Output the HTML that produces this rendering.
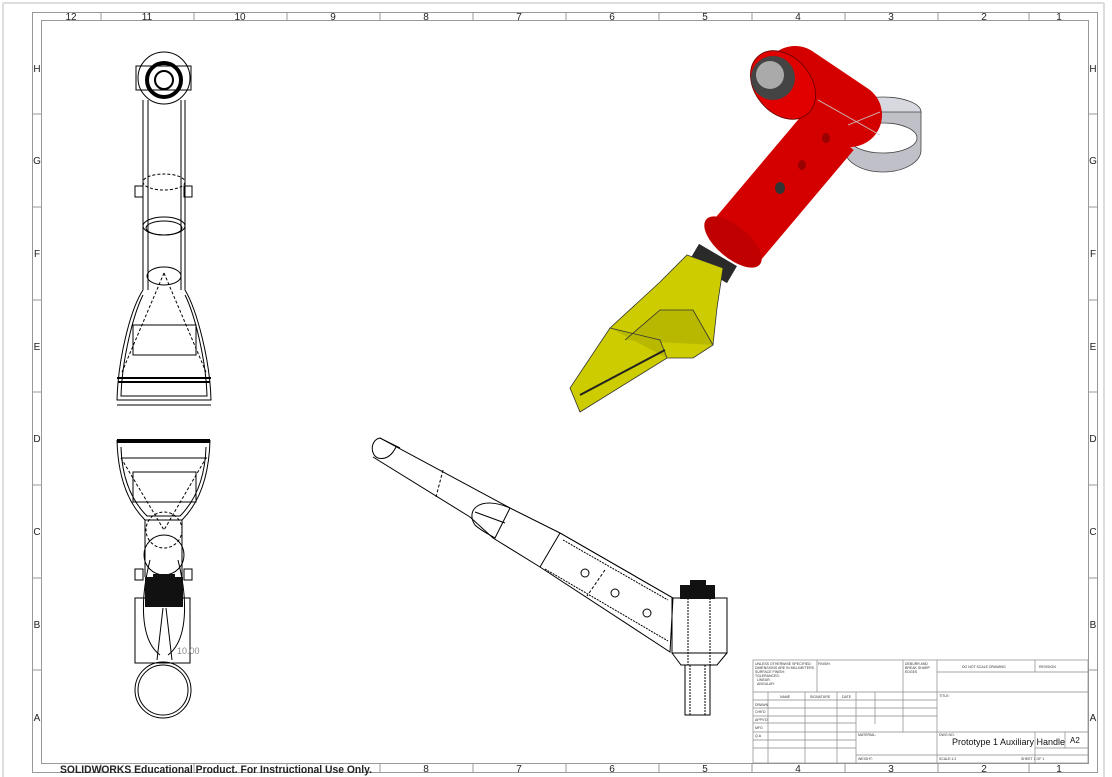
<!DOCTYPE html>
<html><head><meta charset="utf-8"><style>
html,body{margin:0;padding:0;background:#fff}
svg{display:block}
text{font-family:"Liberation Sans",sans-serif}
</style></head><body>
<svg width="1112" height="777" viewBox="0 0 1112 777" xmlns="http://www.w3.org/2000/svg">
<rect x="0" y="0" width="1112" height="777" fill="#fff"/>
<line x1="3" y1="3" x2="1104" y2="3" stroke="#ddd" stroke-width="2"/>
<line x1="3" y1="3" x2="3" y2="777" stroke="#ddd" stroke-width="2"/>
<line x1="1104" y1="3" x2="1104" y2="777" stroke="#ddd" stroke-width="2"/>
<g fill="none" stroke="#999" stroke-width="1">
<rect x="32.5" y="12.5" width="1065" height="760"/>
<rect x="41.5" y="20.5" width="1047" height="743"/>
<path d="M101 12v8M194 12v8M287 12v8M380 12v8M473 12v8M566 12v8M659 12v8M752 12v8M845 12v8M938 12v8M1029 12v8
M101 763v9M194 763v9M287 763v9M380 763v9M473 763v9M566 763v9M659 763v9M752 763v9M845 763v9M938 763v9M1029 763v9
M32 114h9M32 207h9M32 300h9M32 392h9M32 485h9M32 578h9M32 670h9
M1088 114h9M1088 207h9M1088 300h9M1088 392h9M1088 485h9M1088 578h9M1088 670h9"/>
</g>
<g font-size="10" fill="#222" text-anchor="middle">
<text x="71" y="20">12</text><text x="147" y="20">11</text><text x="240" y="20">10</text><text x="333" y="20">9</text><text x="426" y="20">8</text><text x="519" y="20">7</text><text x="612" y="20">6</text><text x="705" y="20">5</text><text x="798" y="20">4</text><text x="891" y="20">3</text><text x="984" y="20">2</text><text x="1059" y="20">1</text>
<text x="426" y="772">8</text><text x="519" y="772">7</text><text x="612" y="772">6</text><text x="705" y="772">5</text><text x="798" y="772">4</text><text x="891" y="772">3</text><text x="984" y="772">2</text><text x="1059" y="772">1</text>
<text x="37" y="72">H</text><text x="37" y="164">G</text><text x="37" y="257">F</text><text x="37" y="350">E</text><text x="37" y="442">D</text><text x="37" y="535">C</text><text x="37" y="628">B</text><text x="37" y="721">A</text>
<text x="1093" y="72">H</text><text x="1093" y="164">G</text><text x="1093" y="257">F</text><text x="1093" y="350">E</text><text x="1093" y="442">D</text><text x="1093" y="535">C</text><text x="1093" y="628">B</text><text x="1093" y="721">A</text>
</g>

<!-- Top-left front view -->
<g fill="none" stroke="#000" stroke-width="1">
<circle cx="164" cy="78" r="26"/>
<circle cx="164" cy="80" r="17" stroke-width="4"/>
<circle cx="164" cy="80" r="9" stroke-width="2"/>
<rect x="136" y="66" width="55" height="24"/>
<path d="M143 100V290M185 100V290M148 100V290M181 100V290" />
<rect x="135" y="186" width="8" height="11"/><rect x="184" y="186" width="8" height="11"/>
<ellipse cx="164" cy="182" rx="21" ry="8" stroke-dasharray="3 2"/>
<ellipse cx="164" cy="226" rx="21" ry="9"/>
<ellipse cx="164" cy="228" rx="18" ry="7"/>
<ellipse cx="164" cy="276" rx="17" ry="9"/>
<path d="M143 290 C130 310 118 360 117 400 L211 400 C210 360 197 310 185 290"/>
<path d="M143 295 C133 315 122 360 121 396 L207 396 C206 360 195 315 185 295"/>
<path d="M164 273 L122 372M164 273 L206 372" stroke-dasharray="3 2"/>
<rect x="133" y="325" width="63" height="30"/>
<path d="M117 378h94M118 382h92" stroke-width="2"/>
<path d="M117 405h94"/>
</g>

<!-- Bottom-left view -->
<g fill="none" stroke="#000" stroke-width="1">
<path d="M117 440h93M117 442h93" stroke-width="2"/>
<path d="M117 440 C118 480 130 505 145 520 L182 520 C197 505 209 480 210 440"/>
<path d="M121 447 C122 480 133 502 147 516 L180 516 C194 502 205 480 206 447"/>
<path d="M121 458h86"/>
<rect x="133" y="472" width="63" height="30"/>
<path d="M121 458 L164 530 L206 458" stroke-dasharray="3 2"/>
<path d="M145 520V577M182 520V577"/>
<circle cx="164" cy="530" r="18" stroke-dasharray="3 2"/>
<circle cx="164" cy="555" r="20"/>
<rect x="135" y="569" width="8" height="11"/><rect x="184" y="569" width="8" height="11"/>
<rect x="135" y="598" width="55" height="65"/>
<path d="M150 560 C140 600 140 640 160 655M178 560 C188 600 188 640 168 655"/>
<path d="M163 608 L157 660M166 608 L172 660"/>
<circle cx="163" cy="690" r="28"/><circle cx="163" cy="690" r="25"/>
</g>
<rect x="145" y="577" width="38" height="30" fill="#111"/>
<rect x="153" y="574" width="22" height="4" fill="#111"/>
<text x="177" y="654" font-size="9" fill="#888">10.00</text>

<!-- Side view -->
<g fill="none" stroke="#000" stroke-width="1">
<path d="M380 438 L510 508 L560 533 L673 598 L670 652 L540 567 L493 538 L470 517 L373 457"/>
<path d="M380 438 C370 440 370 455 378 458 C386 460 392 455 396 447"/>
<path d="M380 438 L400 448"/>
<path d="M443 470 L436 497" stroke-dasharray="3 2"/>
<path d="M510 508 C480 495 465 510 475 525 C480 530 490 535 495 538 L510 508"/>
<path d="M475 512 L505 523"/>
<path d="M560 533 L540 567M560 533 L673 598"/>
<path d="M563 540 L668 600M545 569 L668 641" stroke-dasharray="2 1"/>
<path d="M605 570 L587 596" stroke-dasharray="3 2"/>
<circle cx="585" cy="573" r="4"/><circle cx="615" cy="593" r="4"/><circle cx="647" cy="613" r="4"/>
<rect x="672" y="598" width="55" height="55"/>
<path d="M672 653 L681 665 L717 665 L727 653"/>
<path d="M688 598V665M710 598V665" stroke-dasharray="2 1"/>
<rect x="685" y="665" width="25" height="50"/>
<path d="M690 665V715M705 665V715" stroke-dasharray="2 1"/>
</g>
<rect x="680" y="585" width="35" height="14" fill="#111"/>
<rect x="690" y="580" width="16" height="6" fill="#111"/>

<!-- 3D render -->
<g>
<ellipse cx="883" cy="112" rx="38" ry="15" fill="#d8d8e0" stroke="#444" stroke-width="0.8"/>
<path d="M845 112 V150 A38 22 0 0 0 921 150 V112 Z" fill="#c0c0c8" stroke="#444" stroke-width="0.8"/>
<ellipse cx="883" cy="138" rx="34" ry="15" fill="#fff" stroke="#444" stroke-width="0.8"/>
<line x1="795" y1="78" x2="850" y2="115" stroke="#d40000" stroke-width="64" stroke-linecap="round"/>
<line x1="830" y1="130" x2="733" y2="245" stroke="#d40000" stroke-width="62"/>
<line x1="718" y1="255" x2="708" y2="272" stroke="#2a2a2a" stroke-width="44"/>
<ellipse cx="733" cy="242" rx="35" ry="16" transform="rotate(40 733 242)" fill="#c00000"/>
<ellipse cx="783" cy="85" rx="28" ry="38" transform="rotate(-40 783 85)" fill="#e00000" stroke="#600" stroke-width="0.8"/>
<path d="M687 255 L723 268 L717 308 L713 345 L693 358 L667 358 L580 412 L570 388 L610 328 L660 282 Z" fill="#cccc00" stroke="#333" stroke-width="0.8"/>
<path d="M610 328 L660 340 L667 358M625 340 L660 310 L693 310 L713 345" fill="#b8b800" stroke="#333" stroke-width="0.8"/>
<path d="M580 395 L665 350" stroke="#222" stroke-width="2" fill="none"/>
<circle cx="773" cy="78" r="22" fill="#444"/>
<circle cx="770" cy="75" r="14" fill="#aaa"/>
<ellipse cx="826" cy="138" rx="4" ry="5" fill="#900"/>
<ellipse cx="802" cy="165" rx="4" ry="5" fill="#900"/>
<ellipse cx="780" cy="188" rx="5" ry="6" fill="#333"/>
</g>
<path d="M818 100 L880 135 M848 125 L880 112" stroke="#ccc" stroke-width="0.8" fill="none"/>

<!-- Title block -->
<g fill="none" stroke="#888" stroke-width="0.7">
<rect x="753" y="660" width="335" height="103"/>
<path d="M753 692h335M937 672h151M753 700h184M753 708h184M753 716h184M753 723h103M753 732h335M753 740h103M753 748h103M856 755h232M1035 748h53"/>
<path d="M817 660v32M903 660v72M937 660v103M1035 660v12M768 692v71M805 692v71M837 692v71M856 692v71M875 692v32M1035 732v31M1065 732v16"/>
</g>
<g font-size="3.5" fill="#333">
<text x="755" y="665">UNLESS OTHERWISE SPECIFIED:</text>
<text x="755" y="669">DIMENSIONS ARE IN MILLIMETERS</text>
<text x="755" y="673">SURFACE FINISH:</text><text x="755" y="677">TOLERANCES:</text>
<text x="757" y="681">LINEAR:</text><text x="757" y="685">ANGULAR:</text>
<text x="818" y="665">FINISH:</text>
<text x="905" y="665">DEBURR AND</text><text x="905" y="669">BREAK SHARP</text><text x="905" y="673">EDGES</text>
<text x="962" y="668">DO NOT SCALE DRAWING</text><text x="1039" y="668">REVISION</text>
<text x="780" y="698">NAME</text><text x="810" y="698">SIGNATURE</text><text x="842" y="698">DATE</text>
<text x="755" y="706">DRAWN</text><text x="755" y="713">CHK'D</text><text x="755" y="721">APPV'D</text><text x="755" y="729">MFG</text><text x="755" y="737">Q.A</text>
<text x="939" y="697">TITLE:</text><text x="858" y="736">MATERIAL:</text><text x="939" y="736">DWG NO.</text>
<text x="858" y="760">WEIGHT:</text><text x="939" y="760">SCALE:1:2</text><text x="1021" y="760">SHEET 1 OF 1</text>
</g>
<text x="952" y="745" font-size="9" fill="#111">Prototype 1 Auxiliary Handle</text>
<text x="1070" y="743" font-size="8" fill="#111">A2</text>
<text x="60" y="773" font-size="11" font-weight="bold" fill="#222" textLength="312" lengthAdjust="spacingAndGlyphs">SOLIDWORKS Educational Product. For Instructional Use Only.</text>
</svg>
</body></html>
